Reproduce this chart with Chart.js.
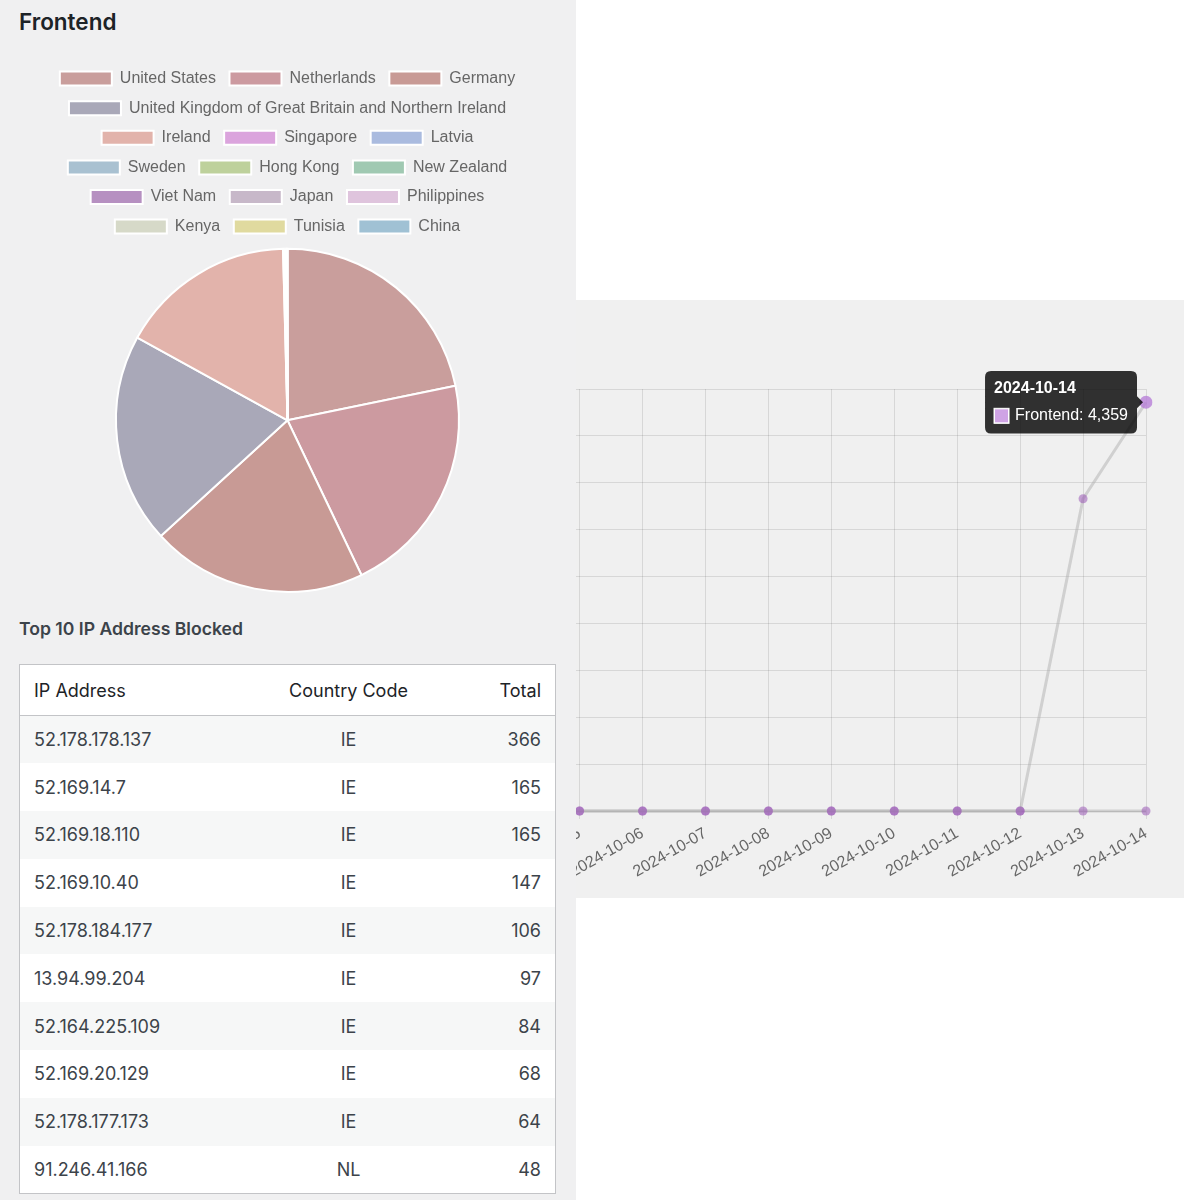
<!DOCTYPE html>
<html>
<head>
<meta charset="utf-8">
<script src="https://cdn.jsdelivr.net/npm/chart.js@4.4.1/dist/chart.umd.min.js"></script>
<style>
html,body{margin:0;padding:0;background:#fff;}
body{width:1184px;height:1200px;position:relative;overflow:hidden;font-family:Inter,"Noto Sans",sans-serif;}
#left{position:absolute;left:0;top:0;width:576px;height:1200px;background:#f0f0f1;}
#title{position:absolute;left:19px;top:7px;margin:0;font-size:22.5px;font-weight:600;color:#1d2327;line-height:30px;}
#pieWrap{position:absolute;left:19px;top:57px;width:537px;height:539px;}
#tblTitle{position:absolute;left:19px;top:617px;margin:0;font-size:17.6px;font-weight:600;color:#3c434a;line-height:24px;}
#tbl{position:absolute;left:19px;top:664px;width:537px;border-collapse:collapse;border:1px solid #c3c4c7;background:#fff;font-size:18px;}
#tbl th{height:51px;font-weight:400;color:#1d2327;border-bottom:1px solid #c3c4c7;padding:0 14px;box-sizing:border-box;}
#tbl td{height:47.8px;color:#3c434a;padding:0 14px;box-sizing:border-box;}
#tbl tbody tr:nth-child(odd){background:#f6f7f7;}
#tbl .c1{text-align:left;width:220px;}
#tbl .c2{text-align:center;width:218px;}
#tbl .c3{text-align:right;}
#right{position:absolute;left:576px;top:300px;width:608px;height:598px;background:#f0f0f0;overflow:hidden;}
#lineWrap{position:absolute;left:-324px;top:0;width:934px;height:598px;}
</style>
</head>
<body>
<div id="left">
  <h2 id="title">Frontend</h2>
  <div id="pieWrap"><canvas id="pie"></canvas></div>
  <h3 id="tblTitle">Top 10 IP Address Blocked</h3>
  <table id="tbl">
    <thead><tr><th class="c1">IP Address</th><th class="c2">Country Code</th><th class="c3">Total</th></tr></thead>
    <tbody id="tbody"></tbody>
  </table>
</div>
<div id="right">
  <div id="lineWrap"><canvas id="line"></canvas></div>
</div>
<script>
// ---- Pie data ----
const countries = ['United States','Netherlands','Germany','United Kingdom of Great Britain and Northern Ireland','Ireland','Singapore','Latvia','Sweden','Hong Kong','New Zealand','Viet Nam','Japan','Philippines','Kenya','Tunisia','China'];
const countryTotals = [1677,1627,1565,1524,1276,8,5,4,3,2,2,2,2,2,1,1];
const countryColors = ['#c99e9c','#cc9aa0','#c89a95','#a9a8b8','#e2b3ab','#dba4dd','#aabbdf','#a9c1d1','#bed19c','#a0c9b2','#b690c1','#c7b8c9','#dfc4dd','#d6d9c8','#e0da9f','#a0c1d4'];

// ---- Table data ----
const ipAddresses = ['52.178.178.137','52.169.14.7','52.169.18.110','52.169.10.40','52.178.184.177','13.94.99.204','52.164.225.109','52.169.20.129','52.178.177.173','91.246.41.166'];
const ipCountryCodes = ['IE','IE','IE','IE','IE','IE','IE','IE','IE','NL'];
const ipTotals = [366,165,165,147,106,97,84,68,64,48];

// ---- Line data ----
const dates = ['2024-10-01','2024-10-02','2024-10-03','2024-10-04','2024-10-05','2024-10-06','2024-10-07','2024-10-08','2024-10-09','2024-10-10','2024-10-11','2024-10-12','2024-10-13','2024-10-14'];
const frontendValues = [0,0,0,0,0,0,0,0,0,0,0,0,3330,4359];
const backendValues = [0,0,0,0,0,0,0,0,0,0,0,0,0,0];

// table
const tbody = document.getElementById('tbody');
ipAddresses.forEach((ip,i)=>{
  const tr = document.createElement('tr');
  tr.innerHTML = '<td class="c1">'+ip+'</td><td class="c2">'+ipCountryCodes[i]+'</td><td class="c3">'+ipTotals[i]+'</td>';
  tbody.appendChild(tr);
});

// pie
new Chart(document.getElementById('pie'), {
  type:'pie',
  data:{labels:countries, datasets:[{data:countryTotals, backgroundColor:countryColors, borderColor:'#ffffff', borderWidth:2, hoverOffset:0}]},
  options:{
    responsive:true, maintainAspectRatio:false, animation:false, events:[],
    radius:171.5,
    layout:{padding:{left:10,right:10,top:0,bottom:0}},
    plugins:{
      legend:{position:'top', labels:{boxWidth:52, boxHeight:14, padding:13.6, color:'#666', font:{family:'Liberation Sans', size:16}}},
      tooltip:{enabled:false}
    }
  }
});

// line
const pointCol = 'rgba(155,89,182,0.55)';
const lineCol = 'rgba(175,175,175,0.5)';
function ds(label, data){
  return {label, data, borderColor:lineCol, backgroundColor:'#cfa3e5', borderWidth:3, fill:false, tension:0,
    pointRadius:4.5, pointBackgroundColor:pointCol, pointBorderColor:pointCol, pointBorderWidth:0,
    pointHoverRadius:6.5, pointHoverBackgroundColor:'rgba(180,120,215,0.75)', pointHoverBorderColor:'rgba(180,120,215,0.75)', pointHoverBorderWidth:0};
}
const lineChart = new Chart(document.getElementById('line'), {
  type:'line',
  data:{labels:dates, datasets:[ds('Frontend', frontendValues), ds('Backend', backendValues)]},
  options:{
    responsive:true, maintainAspectRatio:false, animation:false, events:[],
    layout:{padding:{top:89,right:40,left:0,bottom:7}},
    plugins:{
      legend:{display:false},
      tooltip:{
        xAlign:'right', yAlign:'center',
        backgroundColor:'rgba(0,0,0,0.8)', titleColor:'#fff', bodyColor:'#fff',
        titleFont:{family:'Liberation Sans', size:16, weight:'bold'},
        bodyFont:{family:'Liberation Sans', size:16},
        padding:{left:9,right:9,top:8,bottom:8}, titleMarginBottom:8, cornerRadius:6, caretSize:6, caretPadding:3,
        boxWidth:15, boxHeight:15, boxPadding:4, displayColors:true,
        callbacks:{
          label:(c)=>c.dataset.label+': '+c.parsed.y.toLocaleString('en-US'),
          labelColor:()=>({borderColor:'#ffffff', backgroundColor:'#cfa3e5', borderWidth:1})
        }
      }
    },
    scales:{
      x:{
        grid:{color:'rgba(0,0,0,0.1)', tickLength:8},
        border:{color:'rgba(0,0,0,0.1)'},
        ticks:{color:'#666', font:{family:'Liberation Sans', size:16}, minRotation:30, maxRotation:30, autoSkip:false, padding:5},
        afterFit:(s)=>{s.height=80;}
      },
      y:{
        beginAtZero:true,
        grid:{color:'rgba(0,0,0,0.1)'},
        border:{color:'rgba(0,0,0,0.1)'},
        ticks:{color:'#666', font:{family:'Liberation Sans', size:16}},
        afterFit:(s)=>{s.width=60;}
      }
    }
  }
});
const act = [{datasetIndex:0, index:13}];
lineChart.setActiveElements(act);
lineChart.tooltip.setActiveElements(act, {x:0, y:0});
lineChart.update();
</script>
</body>
</html>
